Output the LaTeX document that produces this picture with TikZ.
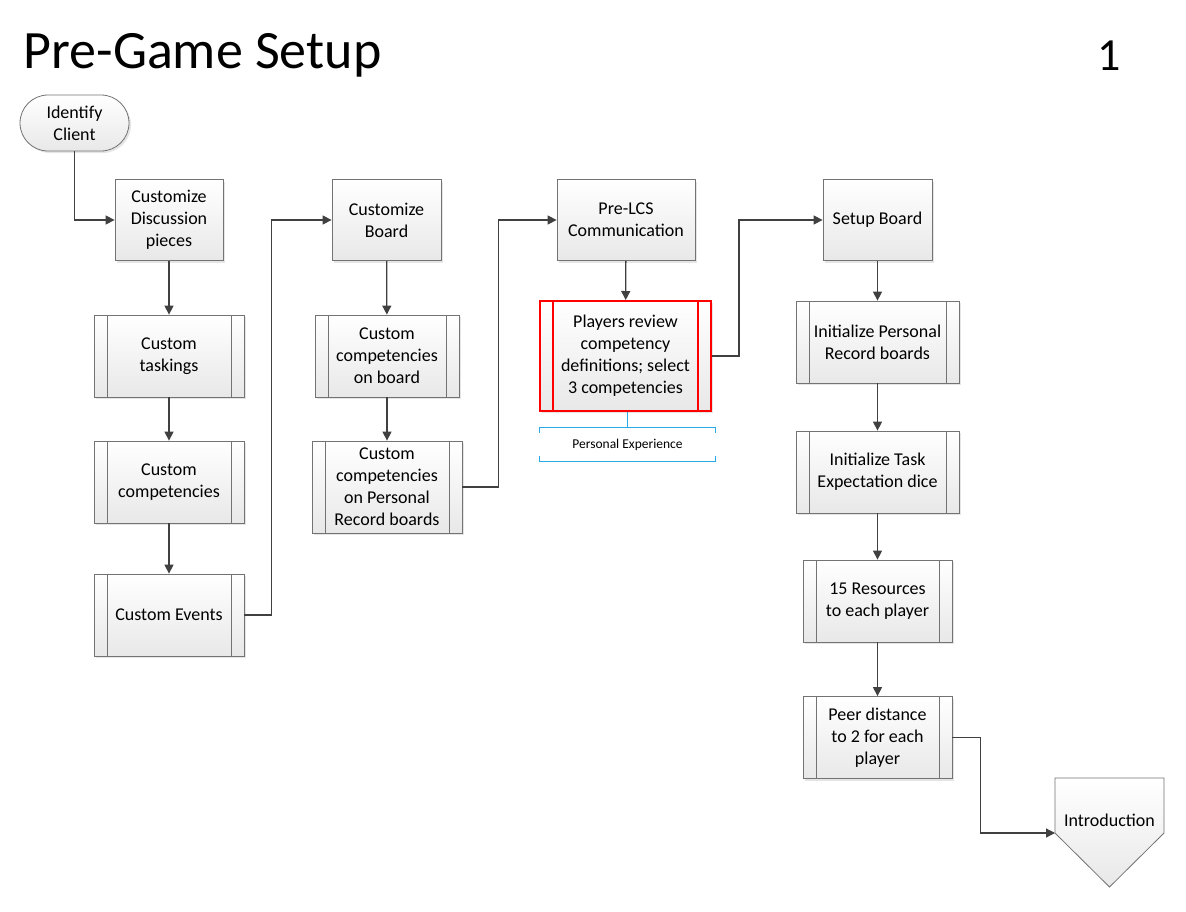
\documentclass[tikz,border=0pt]{standalone}
\usepackage{fontspec}
\setmainfont{Carlito}
\usetikzlibrary{shadows,arrows.meta}
\definecolor{annotblue}{RGB}{40,170,230}
\tikzset{
  box/.style={draw=black!55, line width=0.8pt, top color=white, bottom color=black!9,
    drop shadow={opacity=0.2, shadow xshift=2pt, shadow yshift=-2pt},
    align=center, inner sep=0pt, font=\fontsize{18}{22}\selectfont},
  subproc/.style={box, path picture={\draw[#1]
    ([xshift=13pt]path picture bounding box.north west) -- ([xshift=13pt]path picture bounding box.south west)
    ([xshift=-13pt]path picture bounding box.north east) -- ([xshift=-13pt]path picture bounding box.south east);}},
  subproc/.default={black!55,line width=0.8pt},
  flow/.style={draw=black!75, line width=1.3pt, -{Triangle[length=9pt,width=9pt]}},
  annotline/.style={draw=annotblue, line width=1.2pt},
}
\begin{document}
\begin{tikzpicture}[x=1pt,y=-1pt]
\useasboundingbox[fill=white] (0,0) rectangle (1186,911);
\node[anchor=base west, font=\fontsize{54}{60}\selectfont] (title) at (20,68) {Pre-Game Setup};
\node[anchor=base, font=\fontsize{46}{50}\selectfont] (page) at (1109,70) {1};

\node[box, rounded corners=28pt, minimum width=109, minimum height=56] (client) at (74.5,123) {Identify\\Client};
\node[box, minimum width=108, minimum height=81] (cdisc) at (169,220) {Customize\\Discussion\\pieces};
\node[subproc, minimum width=150, minimum height=82] (ctask) at (169,356) {Custom\\taskings};
\node[subproc, minimum width=150, minimum height=82] (ccomp) at (169,482) {Custom\\competencies};
\node[subproc, minimum width=150, minimum height=82] (cevents) at (169,615) {Custom Events};

\node[box, minimum width=109, minimum height=81] (cboard) at (386.5,220) {Customize\\Board};
\node[subproc, minimum width=144, minimum height=82] (conboard) at (387,356) {Custom\\competencies\\on board};
\node[subproc, minimum width=150, minimum height=92] (cprb) at (387,487) {Custom\\competencies\\on Personal\\Record boards};

\node[box, minimum width=138, minimum height=81] (prelcs) at (626,220) {Pre-LCS\\Communication};
\node[subproc={red,line width=2pt}, draw=red, line width=2pt, minimum width=171, minimum height=110] (review) at (625.5,356)
  {Players review\\competency\\definitions; select\\3 competencies};
\node[minimum width=175, minimum height=33, inner sep=0pt, font=\fontsize{13.5}{16}\selectfont] (pexp) at (627.5,444.5) {Personal Experience};
\draw[annotline] ([yshift=-5pt]pexp.north west) -- (pexp.north west) -- (pexp.north east) -- ([yshift=-5pt]pexp.north east);
\draw[annotline] ([yshift=5pt]pexp.south west) -- (pexp.south west) -- (pexp.south east) -- ([yshift=5pt]pexp.south east);
\draw[annotline] (review.south -| pexp.north) -- (pexp.north);

\node[box, minimum width=109, minimum height=81] (setup) at (877.5,220) {Setup Board};
\node[subproc, minimum width=163, minimum height=82] (initprb) at (877.5,342) {Initialize Personal\\Record boards};
\node[subproc, minimum width=163, minimum height=82] (inittask) at (877.5,472) {Initialize Task\\Expectation dice};
\node[subproc, minimum width=149, minimum height=82] (resources) at (877.5,601) {15 Resources\\to each player};
\node[subproc, minimum width=149, minimum height=82] (peer) at (877.5,737.5) {Peer distance\\to 2 for each\\player};

\coordinate (introw) at (1055,833);
\draw[draw=black!55, line width=0.8pt, top color=white, bottom color=black!9]
  (1055,778) -- (1164,778) -- (1164,833) -- (1109.5,887) -- (introw) -- cycle;
\node[font=\fontsize{18}{22}\selectfont] (intro) at (1109.5,820) {Introduction};

\draw[flow] (client.south) |- (cdisc.west);
\draw[flow] (cdisc) -- (ctask);
\draw[flow] (ctask) -- (ccomp);
\draw[flow] (ccomp) -- (cevents);
\draw[flow] (cevents.east) -- ++(27,0) |- (cboard.west);
\draw[flow] (cboard) -- (conboard);
\draw[flow] (conboard) -- (cprb);
\draw[flow] (cprb.east) -- ++(36,0) |- (prelcs.west);
\draw[flow] (prelcs) -- (review);
\draw[flow] (review.east) -- ++(27,0) |- (setup.west);
\draw[flow] (setup) -- (initprb);
\draw[flow] (initprb) -- (inittask);
\draw[flow] (inittask) -- (resources);
\draw[flow] (resources) -- (peer);
\draw[flow] (peer.east) -- ++(28,0) |- (introw);
\end{tikzpicture}
\end{document}
